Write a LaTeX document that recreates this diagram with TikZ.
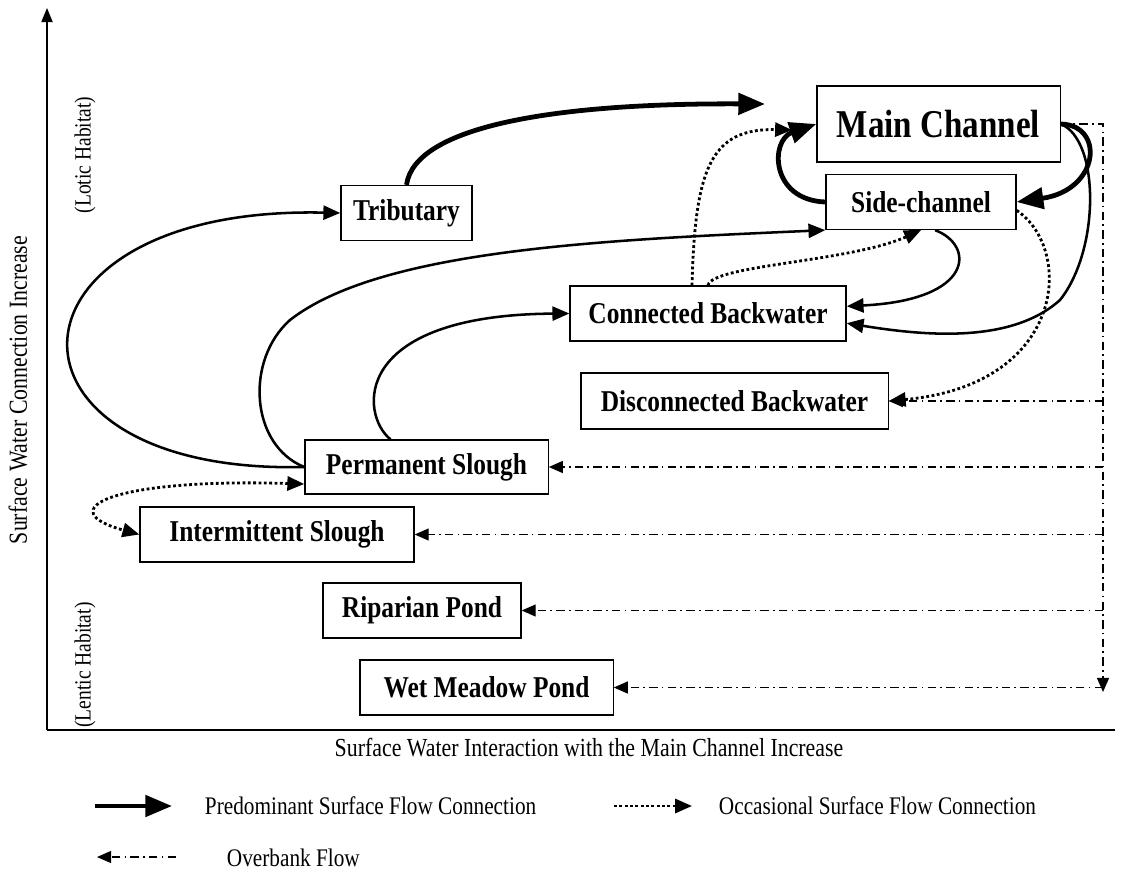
\documentclass[tikz,border=0pt]{standalone}
\usepackage{fontspec}
\setmainfont[FakeStretch=0.84]{Liberation Serif}
\usetikzlibrary{arrows.meta, calc, positioning}

\tikzset{
  >={Triangle[length=12pt,width=10pt]},
  habitat/.style={draw, line width=0.9pt, inner sep=0pt, minimum height=1.375cm,
    font=\fontsize{21.5}{24}\selectfont\bfseries},
  major/.style={line width=3.4pt, -{Triangle[length=19pt,width=15pt]}},
  flow/.style={line width=1.8pt, ->},
  occasional/.style={line width=2pt, dash pattern=on 2pt off 1.8pt, ->},
  overbank/.style={line width=1pt, dash pattern=on 6pt off 3pt on 1.2pt off 3pt,
    -{Triangle[length=10pt,width=8.5pt]}},
  axislabel/.style={font=\fontsize{18.5}{20}\selectfont},
  legendtext/.style={font=\fontsize{18}{20}\selectfont, anchor=west}
}

\begin{document}
\begin{tikzpicture}[x=0.025cm, y=-0.025cm]
\useasboundingbox (0,0) rectangle (1130,875);

\draw[line width=0.8pt, -{Triangle[length=10pt,width=8pt]}] (47,730) -- (47,8);
\draw[line width=0.8pt] (47,730) -- (1115,730);
\node[axislabel] (xlab) at (589,748) {Surface Water Interaction with the Main Channel Increase};
\node[axislabel, rotate=90] (ylab) at (18,390) {Surface Water Connection Increase};
\node[font=\fontsize{16.5}{18}\selectfont, rotate=90] (lotic) at (85,155) {(Lotic Habitat)};
\node[font=\fontsize{16.5}{18}\selectfont, rotate=90] (lentic) at (85,665) {(Lentic Habitat)};

\node[habitat, minimum width=6.08cm, minimum height=1.9cm, font=\fontsize{28}{30}\selectfont\bfseries] (main) at (938.5,124) {Main Channel};
\node[habitat, minimum width=4.75cm] (side) at (921,202) {Side-channel};
\node[habitat, minimum width=3.28cm] (trib) at (406.5,213) {Tributary};
\node[habitat, minimum width=6.9cm] (conn) at (708,313.5) {Connected Backwater};
\node[habitat, minimum width=7.68cm, minimum height=1.4cm] (disc) at (734.5,401) {Disconnected Backwater};
\node[habitat, minimum width=6.08cm, minimum height=1.35cm] (perm) at (426.5,467) {Permanent Slough};
\node[habitat, minimum width=6.85cm] (int) at (277,534.5) {Intermittent Slough};
\node[habitat, minimum width=4.95cm] (rip) at (422,610.5) {Riparian Pond};
\node[habitat, minimum width=6.33cm] (wet) at (486.5,687.5) {Wet Meadow Pond};

\coordinate (tribtip) at (765,104);
\coordinate (dottip) at (792,130);
\coordinate (obend) at (1103,692);

\draw[major] (trib.north) .. controls (415,125) and (560,103) .. (tribtip);
\draw[major] (side.west) .. controls (770,200) and (770,140) .. (main.west);
\draw[major] (main.east) .. controls (1105,125) and (1100,190) .. (side.east);

\draw[flow] (main.east) .. controls (1100,140) and (1100,250) .. (1060,300)
  .. controls (1010,345) and (920,335) .. (conn.-4);
\draw[flow] ([xshift=10pt]side.south) .. controls (975,245) and (975,300) .. (conn.3);
\draw[flow] (perm.west) .. controls (-20,475) and (-10,205) .. (trib.west);
\draw[flow] (perm.west) .. controls (250,445) and (245,360) .. (290,320)
  .. controls (380,250) and (600,240) .. (side.south west);
\draw[flow] ($(perm.north)+(-36,0)$) .. controls (360,415) and (350,315) .. (conn.west);

\draw[occasional] ($(conn.north)+(-16,0)$) .. controls (695,170) and (710,128) .. (dottip);
\draw[occasional] (conn.north) .. controls (712,265) and (850,262) .. (side.south);
\draw[occasional] (side.-5) .. controls (1075,250) and (1065,385) .. (disc.east);
\draw[occasional, <->] ($(perm.west)+(0,17)$) .. controls (110,478) and (50,510) .. (int.west);

\draw[overbank] (main.east) -| (obend);
\foreach \n in {disc,perm,int,rip,wet}
  \draw[overbank] (\n.east -| obend) -- (\n.east);

\coordinate (lgmajA) at (95,806);
\coordinate (lgmajB) at (172,806);
\coordinate (lgoccA) at (614,806);
\coordinate (lgoccB) at (692,806);
\coordinate (lgobA) at (176,857);
\coordinate (lgobB) at (97,857);
\draw[major] (lgmajA) -- (lgmajB);
\draw[occasional] (lgoccA) -- (lgoccB);
\draw[overbank] (lgobA) -- (lgobB);
\node[legendtext] (lgmaj) at (200,806) {Predominant Surface Flow Connection};
\node[legendtext] (lgocc) at (714,806) {Occasional Surface Flow Connection};
\node[legendtext] (lgob) at (222,858) {Overbank Flow};
\end{tikzpicture}
\end{document}
